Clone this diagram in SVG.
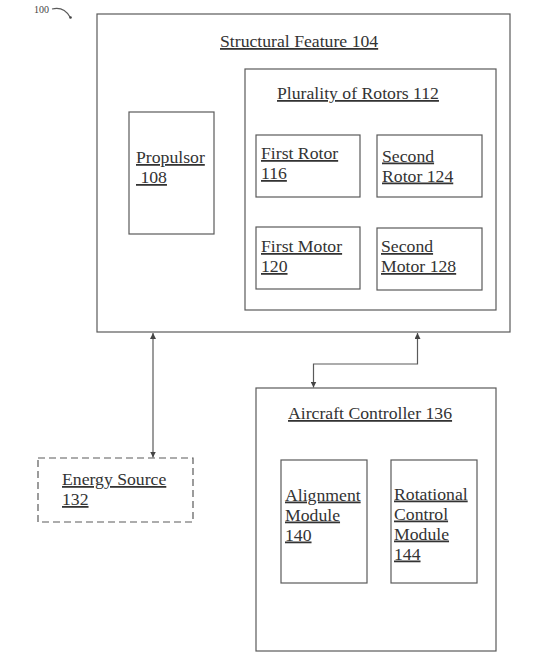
<svg xmlns="http://www.w3.org/2000/svg" width="543" height="653" viewBox="0 0 543 653">
<style>
.box{fill:none;stroke:#5a5a5a;stroke-width:1.2}
.dash{fill:none;stroke:#5a5a5a;stroke-width:1.2;stroke-dasharray:7 4}
.t{font-family:"Liberation Serif","Times New Roman",serif;font-size:17.7px;fill:#333;text-decoration:underline}
.c{stroke:#5a5a5a;stroke-width:1.2;fill:none}
.lbl{font-family:"Liberation Serif","Times New Roman",serif;font-size:10px;fill:#444}
</style>
<defs>
<marker id="ah" viewBox="0 0 8 8" refX="8" refY="4" markerWidth="6" markerHeight="6" orient="auto-start-reverse" markerUnits="userSpaceOnUse">
<path d="M0,0 L8,4 L0,8 z" fill="#444"/>
</marker>
</defs>
<rect width="543" height="653" fill="#fff"/>
<g id="label100">
<text class="lbl" x="34" y="13">100</text>
<path d="M52,9 C60,7 66,10 70,17" class="c" stroke-width="1"/>
<circle cx="70.5" cy="17.5" r="1.3" fill="#444"/>
</g>
<g id="structural-feature">
<rect class="box" x="97" y="14" width="413" height="318"/>
<text class="t" x="220" y="47">Structural Feature 104</text>
</g>
<g id="propulsor">
<rect class="box" x="129" y="112" width="85" height="122"/>
<text class="t" x="136" y="163">Propulsor</text>
<text class="t" x="136" y="183">&#160;108</text>
</g>
<g id="plurality-of-rotors">
<rect class="box" x="245" y="69" width="251" height="241"/>
<text class="t" x="277" y="99">Plurality of Rotors 112</text>
</g>
<g id="first-rotor">
<rect class="box" x="256" y="135" width="104" height="62"/>
<text class="t" x="261" y="159">First Rotor</text>
<text class="t" x="261" y="179">116</text>
</g>
<g id="second-rotor">
<rect class="box" x="377" y="135" width="105" height="62"/>
<text class="t" x="382" y="161.5">Second</text>
<text class="t" x="382" y="181.5">Rotor 124</text>
</g>
<g id="first-motor">
<rect class="box" x="256" y="227" width="104" height="62"/>
<text class="t" x="261" y="252">First Motor</text>
<text class="t" x="261" y="272">120</text>
</g>
<g id="second-motor">
<rect class="box" x="377" y="228" width="105" height="62"/>
<text class="t" x="381" y="252">Second</text>
<text class="t" x="381" y="272">Motor 128</text>
</g>
<g id="energy-source">
<rect class="dash" x="38" y="458" width="155" height="64"/>
<text class="t" x="62" y="485">Energy Source</text>
<text class="t" x="62" y="505">132</text>
</g>
<g id="aircraft-controller">
<rect class="box" x="256" y="388" width="240" height="263"/>
<text class="t" x="288" y="419">Aircraft Controller 136</text>
</g>
<g id="alignment-module">
<rect class="box" x="281" y="460" width="86" height="123"/>
<text class="t" x="285" y="500.5">Alignment</text>
<text class="t" x="285" y="520.5">Module</text>
<text class="t" x="285" y="540.5">140</text>
</g>
<g id="rotational-control-module">
<rect class="box" x="391" y="460" width="86" height="123"/>
<text class="t" x="394" y="499.5">Rotational</text>
<text class="t" x="394" y="519.5">Control</text>
<text class="t" x="394" y="539.5">Module</text>
<text class="t" x="394" y="559.5">144</text>
</g>
<g id="connectors">
<path class="c" d="M153,333 L153,457.5" marker-start="url(#ah)" marker-end="url(#ah)"/>
<path class="c" d="M417.5,333 L417.5,364 L313.5,364 L313.5,387.5" marker-start="url(#ah)" marker-end="url(#ah)"/>
</g>
</svg>
